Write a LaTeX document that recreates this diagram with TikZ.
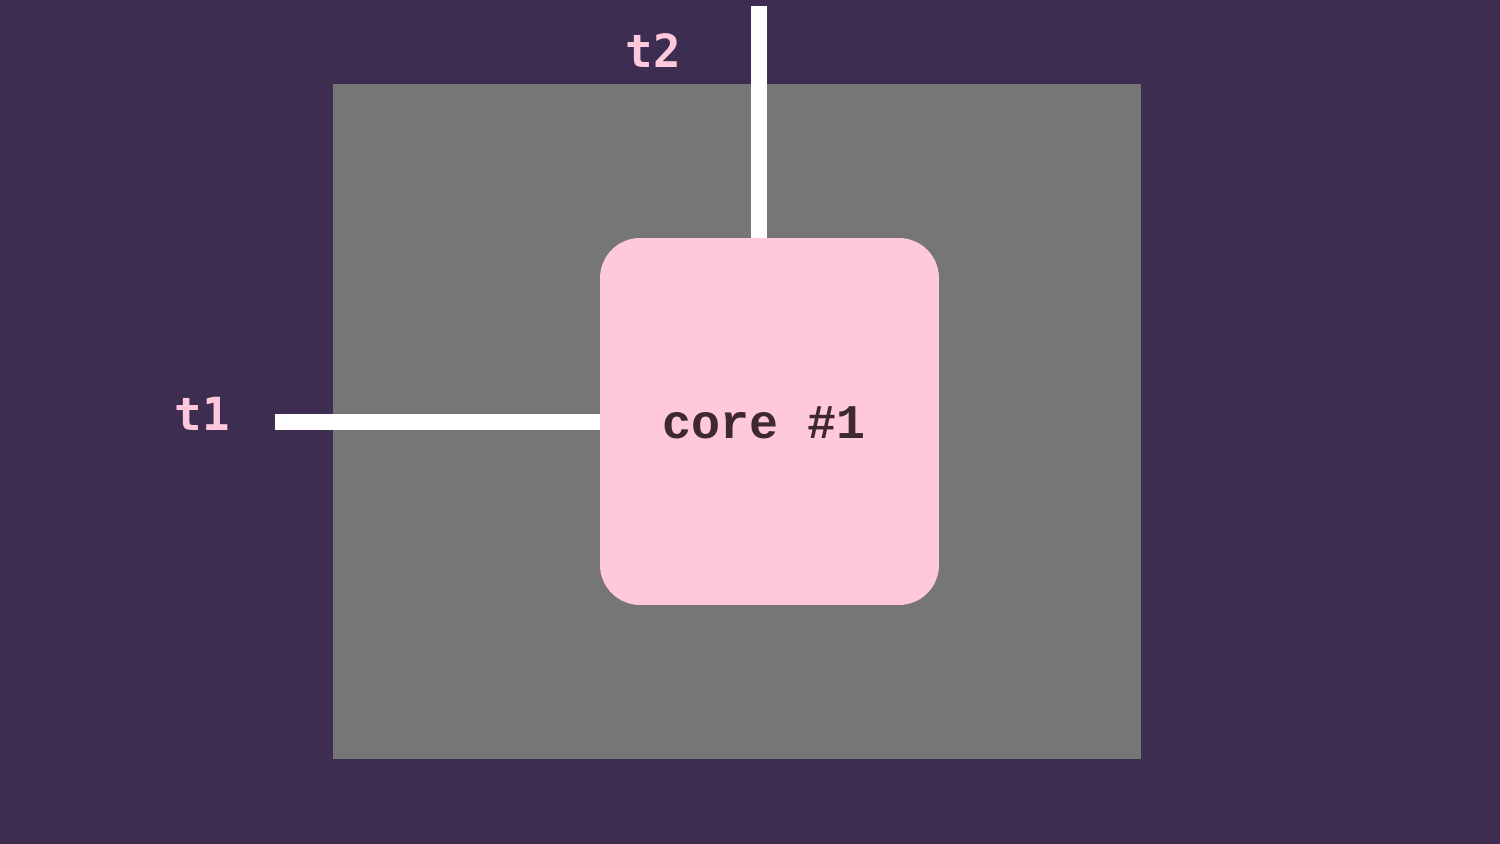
\documentclass[tikz,border=0pt]{standalone}
\usepackage{fontspec}
\newfontfamily\corefont{Liberation Mono}
\newfontfamily\labelfont{DejaVu Sans Mono}
\definecolor{bgpurple}{RGB}{61,45,80}
\definecolor{diegray}{RGB}{118,118,118}
\definecolor{corepink}{RGB}{255,200,221}
\definecolor{coretext}{RGB}{62,42,45}

\tikzset{
	wire/.style={white, line width=9.1pt},
	threadlabel/.style={text=corepink, font=\labelfont\bfseries\fontsize{26}{26}\selectfont},
}

\begin{document}
\begin{tikzpicture}[x=0.02cm, y=-0.02cm]
\useasboundingbox (0,0) rectangle (1500,844);

% background and die
\fill[bgpurple] (-10,-10) rectangle (1510,854);
\fill[diegray] (333,84) rectangle (1141,759);

% the core
\node[fill=corepink, rounded corners=0.8cm, minimum width=6.78cm, minimum height=7.34cm] (core) at (769.5,421.5) {};
\node[text=coretext, font=\corefont\bfseries\fontsize{27.5}{27.5}\selectfont] (corename) at (764,423) {core \#1};

% threads
\coordinate (t1end) at (275,422);
\coordinate (t2end) at (758.5,6);
\draw[wire] (t1end) -- (t1end -| core.west);
\draw[wire] (t2end) -- (t2end |- core.north);

\node[threadlabel] (t1) at (202,414) {t1};
\node[threadlabel] (t2) at (653,51) {t2};

\end{tikzpicture}
\end{document}
